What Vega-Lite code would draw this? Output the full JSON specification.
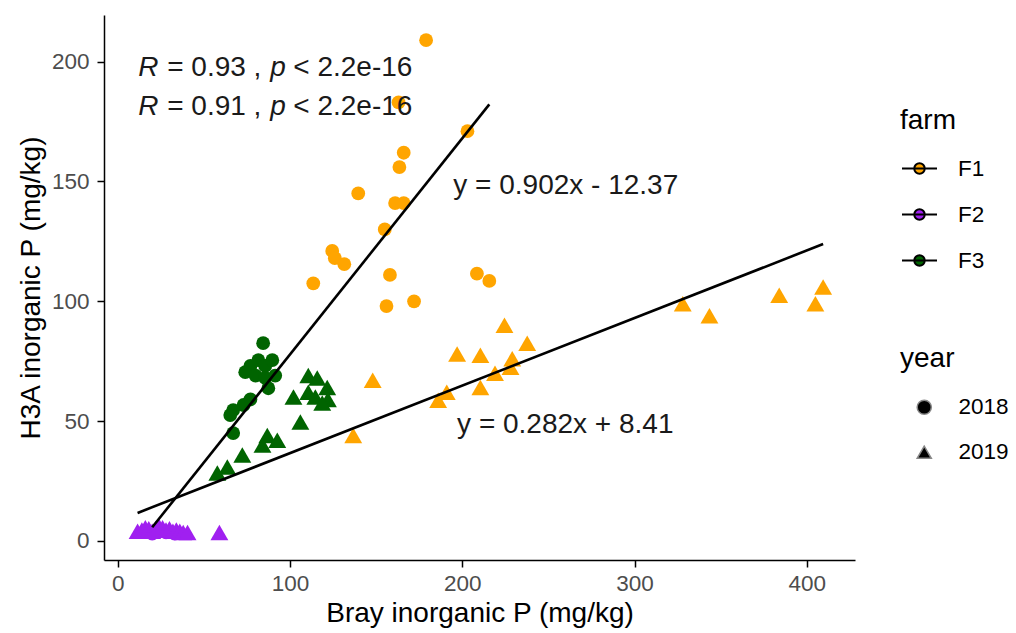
{
  "$schema": "https://vega.github.io/schema/vega-lite/v6.json",
  "width": 751,
  "height": 545,
  "autosize": {"type": "none"},
  "padding": {"left": 104, "top": 15, "right": 161, "bottom": 73},
  "background": "white",
  "config": {
    "view": {"stroke": null},
    "font": "Liberation Sans",
    "axis": {
      "domainColor": "black", "domainWidth": 1.5,
      "tickColor": "black", "tickWidth": 1.5, "tickSize": 7,
      "labelColor": "#4d4d4d", "labelFontSize": 22.5, "labelFont": "Liberation Sans",
      "titleFont": "Liberation Sans", "titleFontSize": 28, "titleFontWeight": "normal", "titleColor": "black",
      "grid": false
    },
    "axisX": {"labelPadding": 5, "titlePadding": 5},
    "axisY": {"labelPadding": 8, "titlePadding": 6},
    "legend": {
      "titleFont": "Liberation Sans", "titleFontSize": 28, "titleFontWeight": "normal", "titleColor": "black",
      "labelFont": "Liberation Sans", "labelFontSize": 22.5, "labelColor": "black"
    }
  },
  "datasets": {
    "points": [
      {"farm": "F2", "year": "2018", "bray": 20, "h3a": 3},
      {"farm": "F2", "year": "2018", "bray": 24, "h3a": 4},
      {"farm": "F2", "year": "2018", "bray": 28, "h3a": 3.5},
      {"farm": "F2", "year": "2018", "bray": 33, "h3a": 3},
      {"farm": "F1", "year": "2018", "bray": 179, "h3a": 209},
      {"farm": "F1", "year": "2018", "bray": 203, "h3a": 171},
      {"farm": "F1", "year": "2018", "bray": 163, "h3a": 183},
      {"farm": "F1", "year": "2018", "bray": 166, "h3a": 162},
      {"farm": "F1", "year": "2018", "bray": 163.5, "h3a": 156},
      {"farm": "F1", "year": "2018", "bray": 139.6, "h3a": 145},
      {"farm": "F1", "year": "2018", "bray": 161, "h3a": 141},
      {"farm": "F1", "year": "2018", "bray": 166, "h3a": 141},
      {"farm": "F1", "year": "2018", "bray": 155, "h3a": 130},
      {"farm": "F1", "year": "2018", "bray": 124.5, "h3a": 121},
      {"farm": "F1", "year": "2018", "bray": 126, "h3a": 118},
      {"farm": "F1", "year": "2018", "bray": 131.5, "h3a": 115.5},
      {"farm": "F1", "year": "2018", "bray": 113.5, "h3a": 107.5},
      {"farm": "F1", "year": "2018", "bray": 158, "h3a": 111},
      {"farm": "F1", "year": "2018", "bray": 156, "h3a": 98},
      {"farm": "F1", "year": "2018", "bray": 172, "h3a": 100},
      {"farm": "F1", "year": "2018", "bray": 208.5, "h3a": 111.5},
      {"farm": "F1", "year": "2018", "bray": 215.7, "h3a": 108.5},
      {"farm": "F3", "year": "2018", "bray": 84.4, "h3a": 82.5},
      {"farm": "F3", "year": "2018", "bray": 77, "h3a": 73},
      {"farm": "F3", "year": "2018", "bray": 81.6, "h3a": 75.4},
      {"farm": "F3", "year": "2018", "bray": 85.6, "h3a": 73},
      {"farm": "F3", "year": "2018", "bray": 89.7, "h3a": 75.4},
      {"farm": "F3", "year": "2018", "bray": 74, "h3a": 70.4},
      {"farm": "F3", "year": "2018", "bray": 80, "h3a": 69},
      {"farm": "F3", "year": "2018", "bray": 85.6, "h3a": 68},
      {"farm": "F3", "year": "2018", "bray": 91.4, "h3a": 69},
      {"farm": "F3", "year": "2018", "bray": 87.4, "h3a": 63.7},
      {"farm": "F3", "year": "2018", "bray": 77, "h3a": 59},
      {"farm": "F3", "year": "2018", "bray": 73, "h3a": 56.7},
      {"farm": "F3", "year": "2018", "bray": 67, "h3a": 54.6},
      {"farm": "F3", "year": "2018", "bray": 65.3, "h3a": 52.5},
      {"farm": "F3", "year": "2018", "bray": 67, "h3a": 45},
      {"farm": "F3", "year": "2019", "bray": 110.6, "h3a": 69},
      {"farm": "F3", "year": "2019", "bray": 115.8, "h3a": 68},
      {"farm": "F3", "year": "2019", "bray": 102, "h3a": 60},
      {"farm": "F3", "year": "2019", "bray": 110.6, "h3a": 62},
      {"farm": "F3", "year": "2019", "bray": 114.7, "h3a": 60},
      {"farm": "F3", "year": "2019", "bray": 121.6, "h3a": 64},
      {"farm": "F3", "year": "2019", "bray": 122, "h3a": 59},
      {"farm": "F3", "year": "2019", "bray": 118.7, "h3a": 57.5},
      {"farm": "F3", "year": "2019", "bray": 106, "h3a": 49.6},
      {"farm": "F3", "year": "2019", "bray": 86.8, "h3a": 44},
      {"farm": "F3", "year": "2019", "bray": 92.6, "h3a": 42},
      {"farm": "F3", "year": "2019", "bray": 84, "h3a": 40},
      {"farm": "F3", "year": "2019", "bray": 72.3, "h3a": 35.8},
      {"farm": "F3", "year": "2019", "bray": 63.6, "h3a": 30.8},
      {"farm": "F3", "year": "2019", "bray": 57.8, "h3a": 28.3},
      {"farm": "F1", "year": "2019", "bray": 148, "h3a": 67},
      {"farm": "F1", "year": "2019", "bray": 197, "h3a": 78},
      {"farm": "F1", "year": "2019", "bray": 210.5, "h3a": 77.5},
      {"farm": "F1", "year": "2019", "bray": 224.5, "h3a": 90},
      {"farm": "F1", "year": "2019", "bray": 237.7, "h3a": 82.5},
      {"farm": "F1", "year": "2019", "bray": 229, "h3a": 76},
      {"farm": "F1", "year": "2019", "bray": 219, "h3a": 70},
      {"farm": "F1", "year": "2019", "bray": 228, "h3a": 72.5},
      {"farm": "F1", "year": "2019", "bray": 210.5, "h3a": 64},
      {"farm": "F1", "year": "2019", "bray": 191, "h3a": 62},
      {"farm": "F1", "year": "2019", "bray": 186, "h3a": 58.7},
      {"farm": "F1", "year": "2019", "bray": 136.7, "h3a": 44},
      {"farm": "F1", "year": "2019", "bray": 328, "h3a": 99},
      {"farm": "F1", "year": "2019", "bray": 343.5, "h3a": 94},
      {"farm": "F1", "year": "2019", "bray": 384, "h3a": 102.5},
      {"farm": "F1", "year": "2019", "bray": 405, "h3a": 99},
      {"farm": "F1", "year": "2019", "bray": 409.5, "h3a": 106},
      {"farm": "F2", "year": "2019", "bray": 11.5, "h3a": 4},
      {"farm": "F2", "year": "2019", "bray": 14, "h3a": 4.5},
      {"farm": "F2", "year": "2019", "bray": 16, "h3a": 5.5},
      {"farm": "F2", "year": "2019", "bray": 18, "h3a": 5},
      {"farm": "F2", "year": "2019", "bray": 20, "h3a": 4},
      {"farm": "F2", "year": "2019", "bray": 22, "h3a": 5},
      {"farm": "F2", "year": "2019", "bray": 24, "h3a": 6},
      {"farm": "F2", "year": "2019", "bray": 26, "h3a": 5.5},
      {"farm": "F2", "year": "2019", "bray": 28, "h3a": 4.5},
      {"farm": "F2", "year": "2019", "bray": 30, "h3a": 5},
      {"farm": "F2", "year": "2019", "bray": 32, "h3a": 4},
      {"farm": "F2", "year": "2019", "bray": 34, "h3a": 4.5},
      {"farm": "F2", "year": "2019", "bray": 36, "h3a": 4},
      {"farm": "F2", "year": "2019", "bray": 38, "h3a": 3.5},
      {"farm": "F2", "year": "2019", "bray": 40.5, "h3a": 3.5},
      {"farm": "F2", "year": "2019", "bray": 59, "h3a": 3.5}
    ],
    "fits": [
      {"year": "2018", "bray": 20, "h3a": 5.67},
      {"year": "2018", "bray": 215.7, "h3a": 182.19},
      {"year": "2019", "bray": 11.5, "h3a": 11.65},
      {"year": "2019", "bray": 409.5, "h3a": 123.89}
    ],
    "eqs": [
      {"label": "y = 0.902x - 12.37", "bray": 194.8, "h3a": 148},
      {"label": "y = 0.282x + 8.41", "bray": 197, "h3a": 48.3}
    ],
    "corItalic": [
      {"label": "R", "bray": 11.9, "h3a": 197.3},
      {"label": "p", "bray": 88.5, "h3a": 197.3},
      {"label": "R", "bray": 11.9, "h3a": 181.25},
      {"label": "p", "bray": 88.5, "h3a": 181.25}
    ],
    "corPlain": [
      {"label": "= 0.93 ,", "bray": 28.7, "h3a": 197.3},
      {"label": "< 2.2e-16", "bray": 101.9, "h3a": 197.3},
      {"label": "= 0.91 ,", "bray": 28.7, "h3a": 181.25},
      {"label": "< 2.2e-16", "bray": 101.9, "h3a": 181.25}
    ]
  },
  "layer": [
    {
      "data": {"name": "points"},
      "transform": [{"filter": "datum.year === '2018'"}],
      "mark": {"type": "point", "filled": true, "opacity": 1, "size": 190},
      "encoding": {
        "x": {"field": "bray", "type": "quantitative",
              "scale": {"domain": [-8, 428], "nice": false, "zero": false},
              "axis": {"title": "Bray inorganic P (mg/kg)", "values": [0, 100, 200, 300, 400]}},
        "y": {"field": "h3a", "type": "quantitative",
              "scale": {"domain": [-8, 219.5], "nice": false, "zero": false},
              "axis": {"title": "H3A inorganic P (mg/kg)", "values": [0, 50, 100, 150, 200]}},
        "color": {"field": "farm", "type": "nominal",
                  "scale": {"domain": ["F1", "F2", "F3"], "range": ["#FFA500", "#A020F0", "#006400"]},
                  "legend": {"title": "farm", "orient": "none", "legendX": 796, "legendY": 92,
                             "padding": 0, "symbolOffset": 1,
                             "symbolType": "M-1,0L1,0M0.3,0A0.3,0.3,0,1,1,-0.3,0A0.3,0.3,0,1,1,0.3,0Z",
                             "symbolSize": 1225, "symbolStrokeColor": "black", "symbolStrokeWidth": 2,
                             "titlePadding": 15, "rowPadding": 16, "labelOffset": 20,
                             "encode": {"symbols": {"update": {
                               "shape": {"value": "M-1,0L1,0M0.3,0A0.3,0.3,0,1,1,-0.3,0A0.3,0.3,0,1,1,0.3,0Z"},
                               "size": {"value": 1225},
                               "stroke": {"value": "black"},
                               "strokeWidth": {"value": 2}}}}}},
        "shape": {"field": "year", "type": "nominal",
                  "scale": {"domain": ["2018", "2019"], "range": ["circle", "triangle-up"]},
                  "legend": {"title": "year", "orient": "none", "legendX": 796, "legendY": 330,
                             "padding": 0, "symbolOffset": 13, "symbolSize": 200,
                             "titlePadding": 23, "rowPadding": 22, "labelOffset": 23,
                             "symbolFillColor": "black",
                             "encode": {"symbols": {"update": {"fill": {"value": "black"}, "stroke": {"value": "transparent"}, "size": {"value": 200}}}}}}
      }
    },
    {
      "data": {"name": "points"},
      "transform": [{"filter": "datum.year === '2019'"}],
      "mark": {"type": "point", "filled": true, "opacity": 1, "size": 320},
      "encoding": {
        "x": {"field": "bray", "type": "quantitative"},
        "y": {"field": "h3a", "type": "quantitative"},
        "color": {"field": "farm", "type": "nominal"},
        "shape": {"field": "year", "type": "nominal"}
      }
    },
    {
      "data": {"name": "fits"},
      "mark": {"type": "line", "color": "black", "strokeWidth": 2.6},
      "encoding": {
        "x": {"field": "bray", "type": "quantitative"},
        "y": {"field": "h3a", "type": "quantitative"},
        "detail": {"field": "year", "type": "nominal"}
      }
    },
    {
      "data": {"name": "eqs"},
      "mark": {"type": "text", "align": "left", "baseline": "middle", "fontSize": 28, "color": "#1a1a1a", "font": "Liberation Sans"},
      "encoding": {
        "x": {"field": "bray", "type": "quantitative"},
        "y": {"field": "h3a", "type": "quantitative"},
        "text": {"field": "label", "type": "nominal"}
      }
    },
    {
      "data": {"name": "corItalic"},
      "mark": {"type": "text", "align": "left", "baseline": "middle", "fontSize": 28, "fontStyle": "italic", "color": "#1a1a1a", "font": "Liberation Sans"},
      "encoding": {
        "x": {"field": "bray", "type": "quantitative"},
        "y": {"field": "h3a", "type": "quantitative"},
        "text": {"field": "label", "type": "nominal"}
      }
    },
    {
      "data": {"name": "corPlain"},
      "mark": {"type": "text", "align": "left", "baseline": "middle", "fontSize": 28, "color": "#1a1a1a", "font": "Liberation Sans"},
      "encoding": {
        "x": {"field": "bray", "type": "quantitative"},
        "y": {"field": "h3a", "type": "quantitative"},
        "text": {"field": "label", "type": "nominal"}
      }
    }
  ]
}
